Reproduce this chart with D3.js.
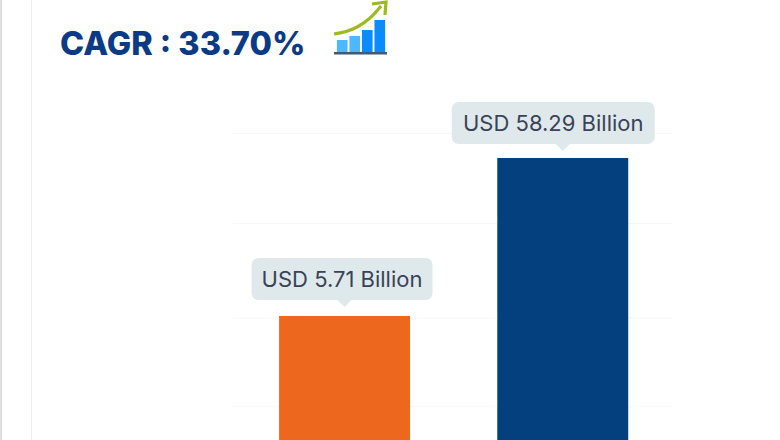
<!DOCTYPE html>
<html>
<head>
<meta charset="utf-8">
<script src="https://cdn.jsdelivr.net/npm/d3@7"></script>
<style>
  html, body { margin: 0; padding: 0; background: #fff; overflow: hidden; }
  text { font-family: Inter, "Noto Sans", sans-serif; }
</style>
</head>
<body>
<div id="chart"></div>
<script>
// Values
const categories = ["Start", "End"];
const values = [5.71, 58.29];
const valueLabels = ["USD 5.71 Billion", "USD 58.29 Billion"];
const barColors = ["#ee671f", "#05407e"];
const gridTicks = [66.5, 36.5, 5, -24.5];
const title = "CAGR : 33.70%";

// Small icon next to the title
const iconLevels = [12, 16, 22, 32];
const iconColors = ["#4db8ff", "#4db8ff", "#0a8cff", "#0a8cff"];
const iconTrend = [[0, 18], [12, 20], [24, 25], [36, 33], [47, 46]];

const width = 780, height = 440;

const svg = d3.select("#chart")
  .append("svg")
  .attr("width", width)
  .attr("height", height);

// Page edges behind the chart
svg.append("rect").attr("width", 2).attr("height", height).attr("fill", "#dedede");
svg.append("rect").attr("x", 31).attr("width", 1).attr("height", height).attr("fill", "#f1f1f1");

// The bars run off the bottom of the crop, so the range is set from the bar tops
const x = d3.scaleBand()
  .domain(categories)
  .range([191.8, 715.5])
  .padding(0.4);

const y = d3.scaleLinear()
  .domain([5.71, 58.29])
  .range([316, 158]);

// Grid
svg.append("g")
  .selectAll("line")
  .data(gridTicks)
  .join("line")
  .attr("x1", 233)
  .attr("x2", 673)
  .attr("y1", d => y(d))
  .attr("y2", d => y(d))
  .attr("stroke", "#f6f7f7")
  .attr("stroke-width", 1);

// Bars
svg.append("g")
  .selectAll("rect")
  .data(values)
  .join("rect")
  .attr("x", (d, i) => x(categories[i]))
  .attr("y", d => y(d))
  .attr("width", x.bandwidth())
  .attr("height", d => height - y(d))
  .attr("fill", (d, i) => barColors[i]);

// Callouts above the bars, the box sits a little left of the bar centre
const callout = svg.append("g")
  .selectAll("g")
  .data(values)
  .join("g")
  .attr("transform", (d, i) => `translate(${x(categories[i]) + x.bandwidth() / 2},${y(d) - (i ? 0 : 2)})`);

callout.append("path")
  .attr("d", "M-8,-15 L0,-7 L8,-15 Z")
  .attr("fill", "#dfe9ec");

callout.append("rect")
  .attr("x", (d, i) => i ? -111 : -93)
  .attr("y", -56)
  .attr("width", (d, i) => i ? 203 : 181)
  .attr("height", 42)
  .attr("rx", 7)
  .attr("fill", "#dfe9ec");

callout.append("text")
  .attr("x", (d, i) => i ? -9.5 : -2.5)
  .attr("y", -27.5)
  .attr("text-anchor", "middle")
  .attr("font-size", 22)
  .attr("fill", "#3a4356")
  .text((d, i) => valueLabels[i]);

// Title
svg.append("text")
  .attr("x", 60)
  .attr("y", 55)
  .attr("font-size", 32.5)
  .attr("font-weight", 800)
  .attr("fill", "#0b3a86")
  .text(title);

// Icon
const icon = svg.append("g").attr("transform", "translate(334,0)");
const iconY = d3.scaleLinear().domain([0, 52]).range([52, 0]);
const iconX = d3.scaleBand().domain(d3.range(iconLevels.length)).range([1, 53]).padding(0.15);

icon.selectAll("rect")
  .data(iconLevels)
  .join("rect")
  .attr("x", (d, i) => iconX(i))
  .attr("y", d => iconY(d))
  .attr("width", iconX.bandwidth())
  .attr("height", d => iconY(0) - iconY(d))
  .attr("fill", (d, i) => iconColors[i]);

icon.append("rect")
  .attr("y", 52)
  .attr("width", 53)
  .attr("height", 2.5)
  .attr("fill", "#3d5a80");

icon.append("path")
  .attr("d", d3.line().x(d => d[0]).y(d => iconY(d[1])).curve(d3.curveBasis)(iconTrend))
  .attr("fill", "none")
  .attr("stroke", "#9bbb1e")
  .attr("stroke-width", 3.2);

icon.append("path")
  .attr("d", "M38,4 L52,2 L51,15")
  .attr("fill", "none")
  .attr("stroke", "#9bbb1e")
  .attr("stroke-width", 3.2);
</script>
</body>
</html>
